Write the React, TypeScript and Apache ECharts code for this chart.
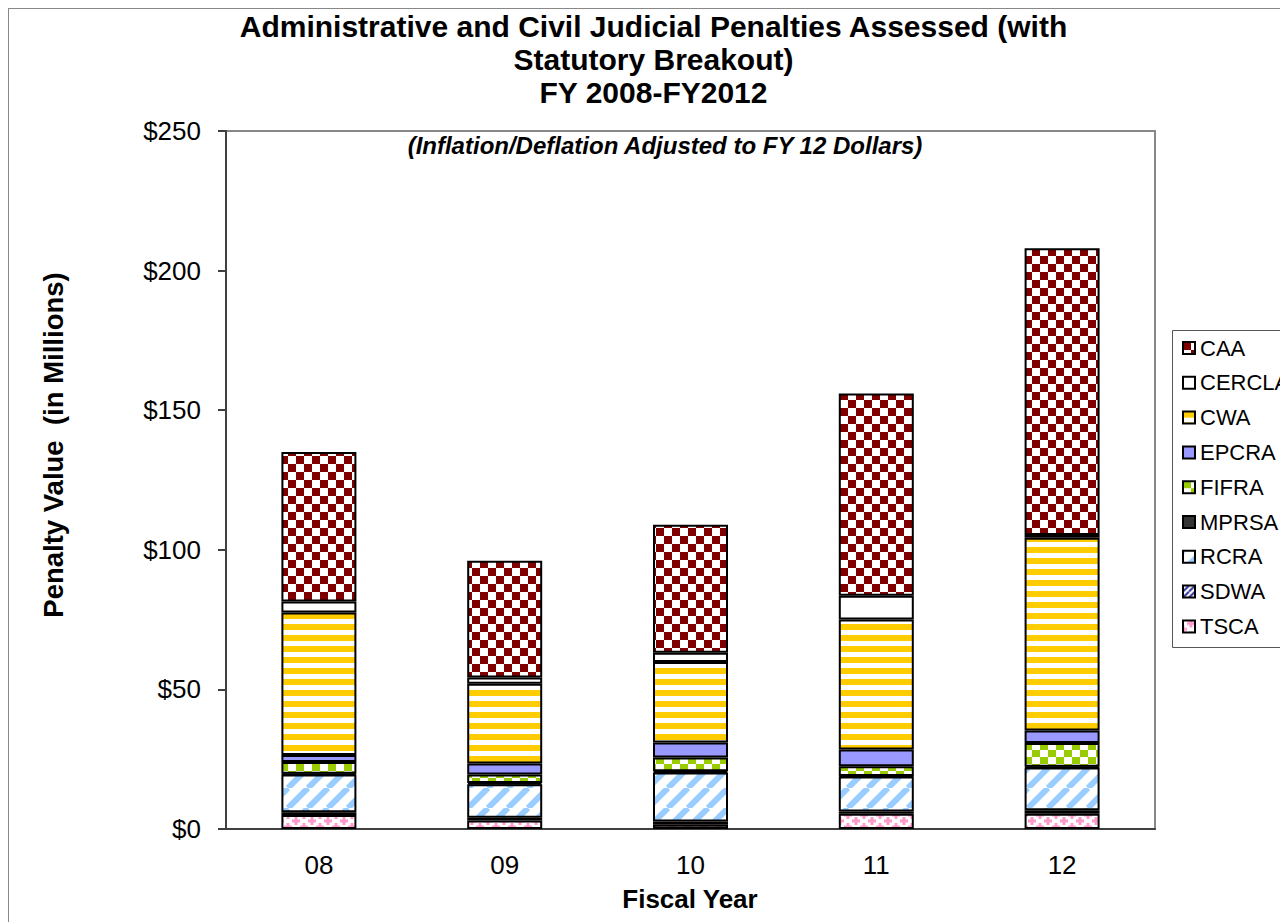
import React, { useEffect, useRef } from "react";
import * as echarts from "echarts";

// ---- Data (values in $ millions) ----
const categories = ["08", "09", "10", "11", "12"];
const TSCA = [5, 3, 1.5, 5.5, 5.5];
const SDWA = [1, 1, 1.2, 0.8, 1.2];
const RCRA = [13.5, 12, 17.5, 12.5, 15.3];
const MPRSA = [0.3, 0.5, 0.5, 0.2, 0.3];
const FIFRA = [4.2, 3, 4.9, 3.5, 8.5];
const EPCRA = [2.5, 4, 5.4, 6, 4.5];
const CWA = [51, 28.5, 28.8, 46.5, 69];
const CERCLA = [4, 2.3, 3.3, 8.5, 1];
const CAA = [53.5, 41.8, 45.9, 72.5, 102.7];

const stackOrder = ["TSCA", "SDWA", "RCRA", "MPRSA", "FIFRA", "EPCRA", "CWA", "CERCLA", "CAA"];
const legendOrder = ["CAA", "CERCLA", "CWA", "EPCRA", "FIFRA", "MPRSA", "RCRA", "SDWA", "TSCA"];
const yMin = 0;
const yMax = 250;
const yStep = 50;

const titleLines = [
  "Administrative and Civil Judicial Penalties Assessed (with",
  "Statutory Breakout)",
  "FY 2008-FY2012",
];
const subtitle = "(Inflation/Deflation Adjusted to FY 12 Dollars)";
const yTitle = "Penalty Value  (in Millions)";
const xTitle = "Fiscal Year";

function tile(w: number, h: number, draw: (ctx: CanvasRenderingContext2D) => void) {
  const c = document.createElement("canvas");
  c.width = w;
  c.height = h;
  const ctx = c.getContext("2d") as CanvasRenderingContext2D;
  ctx.fillStyle = "#ffffff";
  ctx.fillRect(0, 0, w, h);
  draw(ctx);
  return { image: c, repeat: "repeat" } as any;
}

function buildPatterns(): Record<string, any> {
  return {
    CAA: tile(16, 16, (ctx) => {
      ctx.fillStyle = "#800000";
      ctx.fillRect(0, 0, 8, 8);
      ctx.fillRect(8, 8, 8, 8);
    }),
    CERCLA: "#ffffff",
    CWA: tile(4, 11, (ctx) => {
      ctx.fillStyle = "#FFCC00";
      ctx.fillRect(0, 0, 4, 6);
    }),
    EPCRA: "#9999FF",
    FIFRA: tile(16, 14, (ctx) => {
      ctx.fillStyle = "#99CC00";
      ctx.fillRect(0, 0, 8, 7);
      ctx.fillRect(8, 7, 8, 7);
    }),
    MPRSA: "#333333",
    RCRA: tile(20, 20, (ctx) => {
      ctx.strokeStyle = "#99CCFF";
      ctx.lineWidth = 6;
      for (const o of [-20, 0, 20]) {
        ctx.beginPath();
        ctx.moveTo(o, 20);
        ctx.lineTo(o + 20, 0);
        ctx.stroke();
      }
    }),
    SDWA: tile(6, 6, (ctx) => {
      ctx.strokeStyle = "#333399";
      ctx.lineWidth = 2;
      for (const o of [-6, 0, 6]) {
        ctx.beginPath();
        ctx.moveTo(o, 6);
        ctx.lineTo(o + 6, 0);
        ctx.stroke();
      }
    }),
    TSCA: tile(16, 12, (ctx) => {
      ctx.fillStyle = "#FF99CC";
      const plus = (cx: number, cy: number) => {
        ctx.fillRect(cx - 4, cy - 1.5, 8, 3);
        ctx.fillRect(cx - 1.5, cy - 4, 3, 8);
      };
      plus(8, 3);
      plus(0, 9);
      plus(16, 9);
      plus(0, -3);
      plus(16, -3);
      plus(8, 15);
    }),
  };
}

const dataMap: Record<string, number[]> = { TSCA, SDWA, RCRA, MPRSA, FIFRA, EPCRA, CWA, CERCLA, CAA };

export default function App() {
  const ref = useRef<HTMLDivElement>(null);
  useEffect(() => {
    if (!ref.current) return;
    const chart = echarts.init(ref.current, null, { renderer: "svg" });
    const patterns = buildPatterns();
    const font = "Liberation Sans, Arial, sans-serif";
    chart.setOption({
      animation: false,
      textStyle: { fontFamily: font },
      grid: {
        left: 218,
        top: 123,
        right: 133,
        bottom: 93,
        show: true,
        borderColor: "#888888",
        borderWidth: 2,
        backgroundColor: "transparent",
      },
      xAxis: {
        type: "category",
        data: categories,
        axisLine: { lineStyle: { color: "#404040", width: 2 } },
        axisTick: { show: false },
        axisLabel: { color: "#000", fontSize: 26, margin: 23, fontFamily: font },
      },
      yAxis: {
        type: "value",
        min: yMin,
        max: yMax,
        interval: yStep,
        splitLine: { show: false },
        axisLine: { show: true, lineStyle: { color: "#404040", width: 2 } },
        axisTick: { show: true, inside: false, length: 8, lineStyle: { color: "#404040", width: 2 } },
        axisLabel: {
          color: "#000",
          fontSize: 26,
          margin: 25,
          fontFamily: font,
          formatter: (v: number) => "$" + v,
        },
      },
      legend: {
        data: legendOrder,
        orient: "vertical",
        left: 1174,
        top: 329,
        padding: 0,
        itemWidth: 12,
        itemHeight: 12,
        itemGap: 12.8,
        itemTextGap: 6,
        icon: "rect",
        textStyle: { color: "#000", fontSize: 22, lineHeight: 22, fontFamily: font },
      },
      graphic: [
        {
          type: "rect",
          silent: true,
          shape: { x: 0, y: 0, width: 1400, height: 1000 },
          style: { fill: "none", stroke: "#888888", lineWidth: 2 },
        },
        {
          type: "rect",
          silent: true,
          shape: { x: 1164.5, y: 322.5, width: 300, height: 317 },
          style: { fill: "#ffffff", stroke: "#555555", lineWidth: 1 },
          z: -1,
        },
        ...titleLines.map((t, i) => ({
          type: "text",
          silent: true,
          style: {
            text: t,
            x: 645.5,
            y: 18 + i * 33,
            textAlign: "center",
            textVerticalAlign: "middle",
            fontSize: 30,
            lineHeight: 30,
            fontWeight: "bold",
            fontFamily: font,
            fill: "#000",
          },
        })),
        {
          type: "text",
          silent: true,
          style: {
            text: subtitle,
            x: 657,
            y: 137,
            textAlign: "center",
            textVerticalAlign: "middle",
            fontSize: 24,
            fontWeight: "bold",
            fontStyle: "italic",
            fontFamily: font,
            fill: "#000",
          },
        },
        {
          type: "text",
          silent: true,
          x: 45,
          y: 437,
          rotation: Math.PI / 2,
          style: {
            text: yTitle,
            x: 0,
            y: 0,
            textAlign: "center",
            textVerticalAlign: "middle",
            fontSize: 27.5,
            fontWeight: "bold",
            fontFamily: font,
            fill: "#000",
          },
        },
        {
          type: "text",
          silent: true,
          style: {
            text: xTitle,
            x: 682,
            y: 891,
            textAlign: "center",
            textVerticalAlign: "middle",
            fontSize: 26,
            fontWeight: "bold",
            fontFamily: font,
            fill: "#000",
          },
        },
      ],
      series: stackOrder.map((name) => ({
        name,
        type: "bar",
        stack: "total",
        barWidth: 75,
        data: dataMap[name],
        itemStyle: { color: patterns[name], borderColor: "#000", borderWidth: 2 },
        emphasis: { disabled: true },
      })),
    });
    return () => chart.dispose();
  }, []);
  return <div ref={ref} style={{ width: 1280, height: 914 }} />;
}
